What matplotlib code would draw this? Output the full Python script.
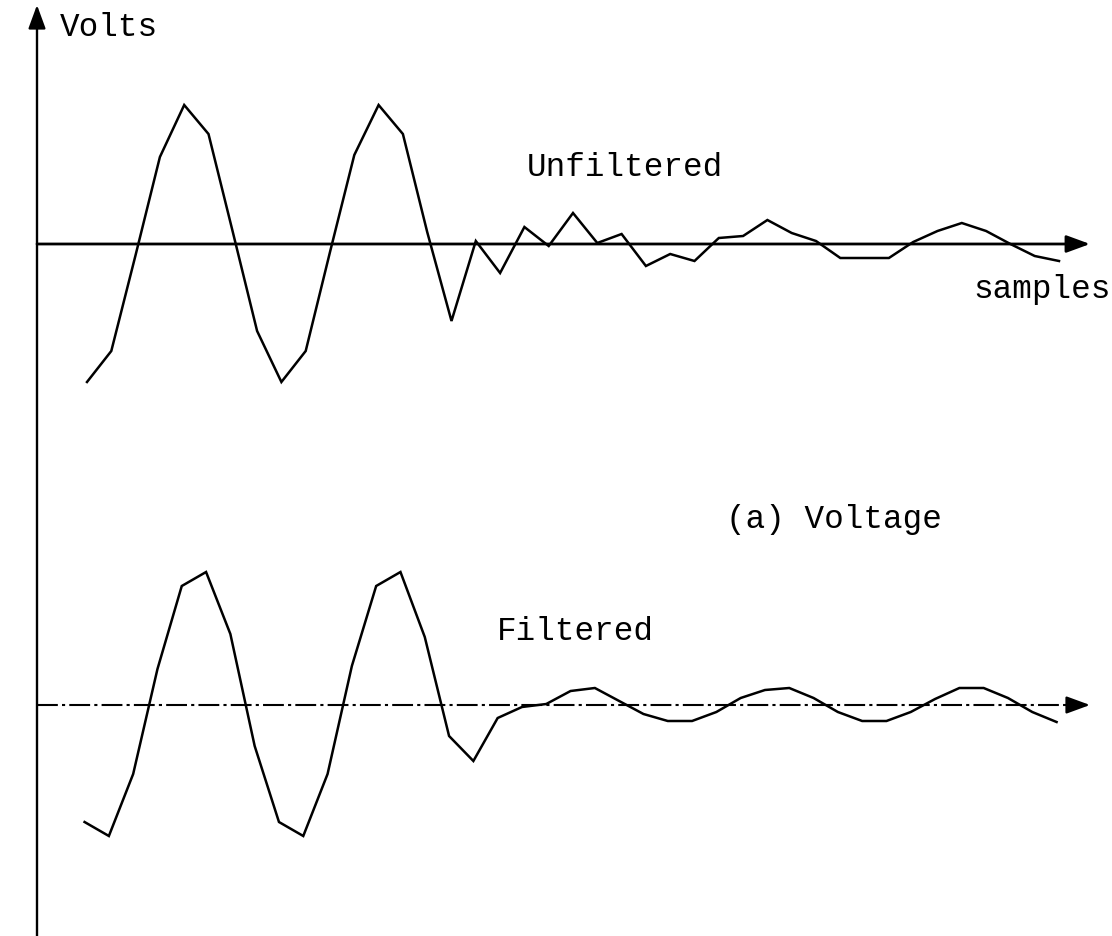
import numpy as np
import matplotlib.pyplot as plt

# muestras (eje x) y tensiones (unidades arbitrarias)
samples = np.arange(41)
unfiltered = [-138, -107, -11, 87, 139, 110, 12, -87, -138, -107,
              -8, 89, 139, 110, 12, -77, 3, -29, 17, -2,
              31, 1, 10, -22, -10, -17, 6, 8, 24, 11,
              3, -14, -14, -14, 2, 13, 21, 13, 0, -12, -17]
filtered = [-117, -131, -69, 36, 119, 133, 71, -41, -117, -131,
            -69, 39, 119, 133, 68, -31, -56, -13, -2, 1,
            14, 17, 4, -9, -16, -16, -7, 7, 15, 17,
            7, -7, -16, -16, -7, 6, 17, 17, 7, -7, -17]

W, H = 1112, 937
X0, DX = 87, 24.3        # pixel of the first sample, spacing
BASE_UP, BASE_LO = 245, 706

fig = plt.figure(figsize=(W / 100, H / 100), dpi=100)
ax = fig.add_axes([0, 0, 1, 1])
ax.set_xlim(-X0 / DX, (W - X0) / DX)
ax.set_ylim(-(H - BASE_UP), BASE_UP)
ax.axis('off')

off_lo = -(BASE_LO - BASE_UP)
x_axis = (37 - X0) / DX
x_end = (1090 - X0) / DX

#* curvas
ax.plot(samples, unfiltered, color='black', lw=1.8, solid_joinstyle='miter')
ax.plot(samples - 0.1, np.array(filtered) + off_lo, color='black', lw=1.8,
        solid_joinstyle='miter')

#* ejes
arrow = dict(arrowstyle='-|>,head_length=0.6,head_width=0.22', color='black',
             mutation_scale=24, shrinkA=0, shrinkB=0)
ax.annotate('', xy=(x_axis, BASE_UP - 6), xytext=(x_axis, -(H - BASE_UP)),
            arrowprops=dict(lw=1.7, **arrow))
ax.annotate('', xy=(x_end, 0), xytext=(x_axis, 0),
            arrowprops=dict(lw=2.0, **arrow))
ax.plot([x_axis, x_end - 0.5], [off_lo, off_lo], color='black', lw=1.5,
        linestyle=(0, (10, 2, 1.5, 2)))
ax.annotate('', xy=(x_end, off_lo), xytext=(x_end - 0.6, off_lo),
            arrowprops=dict(lw=1.7, **arrow))

#* textos
font = dict(family='Liberation Mono', size=23.5, color='black', va='baseline')
fig.text(60 / W, 1 - 36 / H, 'Volts', **font)
fig.text(527 / W, 1 - 176 / H, 'Unfiltered', **font)
fig.text(973 / W, 1 - 298 / H, 'samples', **font)
fig.text(726 / W, 1 - 528 / H, '(a) Voltage', **font)
fig.text(497 / W, 1 - 640 / H, 'Filtered', **font)

fig.savefig('out.png', dpi=100)
